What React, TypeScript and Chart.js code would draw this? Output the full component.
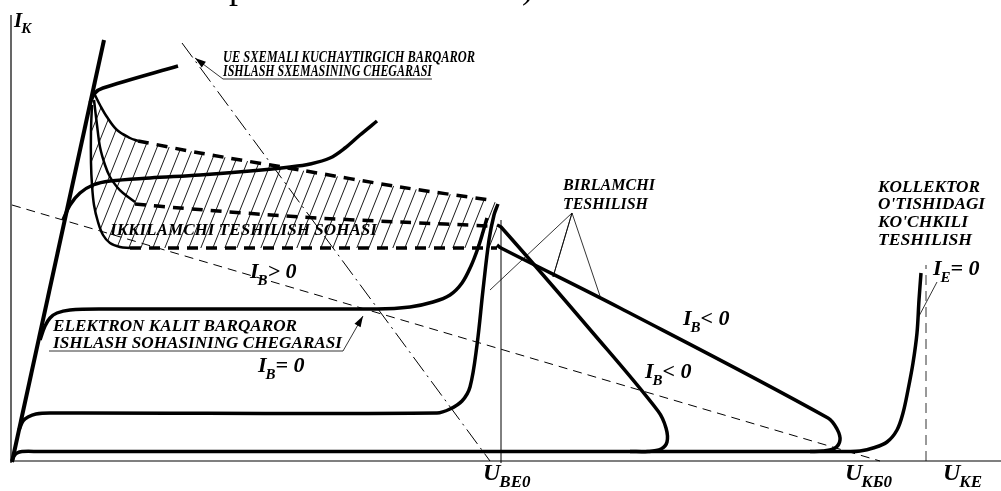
import React, { useEffect, useRef } from "react";
import { Chart, registerables } from "chart.js";

Chart.register(...registerables);

// ---------- data (x: U_KE, y: I_K, arbitrary units) ----------
const axisX = [[-1, 0], [989, 0]];
const axisY = [[-1, -2], [-1, 446]];
const steepLine = [[0, -1], [92, 421]];
const ieZero = [[0, 0], [2, 5], [5, 8], [10, 9.5], [28, 9.5], [838, 9.5], [848, 10], [861, 13], [875, 19], [885, 31], [891, 48], [896, 71], [901, 98], [905, 128], [907, 161], [909, 188]];
const ibZero = [[7, 31], [11, 40], [16, 44], [24, 47], [38, 48], [425, 48], [438, 52], [450, 60], [458, 74], [465, 116], [471, 171], [477, 221], [482, 246], [486, 257]];
const ibPosLow = [[28, 121], [33, 135], [38, 143], [45, 148], [58, 151], [88, 152], [365, 152], [398, 154], [421, 159], [438, 166], [450, 178], [459, 195], [466, 213], [471, 229], [475, 243]];
const ibPosHigh = [[51, 241], [58, 256], [68, 268], [81, 276], [98, 280], [138, 283], [188, 286], [238, 290], [278, 294], [298, 297], [318, 303], [333, 313], [348, 326], [365, 340]];
const topBranch = [[78, 358], [83, 368], [91, 373], [166, 395]];
const curveISolid = [[83, 366], [88, 356], [95, 344], [105, 331], [118, 323], [126, 320]];
const upperDashed = [[126, 320], [188, 308], [288, 291], [388, 274], [478, 261]];
const curveJSolid = [[82, 361], [85, 336], [88, 314], [93, 296], [98, 284], [105, 274], [111, 268], [123, 259]];
const midDashed = [[123, 257], [168, 253], [288, 244], [388, 239], [478, 235]];
const curveKSolid = [[80, 356], [79, 331], [79, 298], [80, 276], [82, 256], [86, 239], [91, 226], [98, 218], [108, 214], [118, 213]];
const lowDashed = [[118, 213], [485, 213]];
const ibNegSteep = [[485, 236], [489, 234], [581, 128], [646, 50], [654, 33], [655, 19], [649, 12], [636, 9.5], [618, 9.5]];
const ibNegLong = [[485, 216], [489, 213], [608, 153], [816, 43], [825, 32], [828, 21], [823, 13], [811, 10], [798, 9.5]];
const ube0Line = [[489, -2], [489, 241]];
const ieVertical = [[914, 0], [914, 196]];
const loadLine = [[0, 256], [868, 0]];
const ueBoundary = [[170, 418], [478, 0]];
const ueLeader = [[183, 403], [211, 382], [420, 382]];
const ekLeader = [[37, 110], [331, 110], [351, 145]];
const birlamchiLeader = [[478, 171], [560, 248], [541, 184], [560, 248], [588, 165]];
const ieLeader = [[925, 179], [906, 143]];

const blockLabels = [
  { text: "UE SXEMALI KUCHAYTIRGICH BARQAROR", x: 211, y: 399, w: 252 },
  { text: "ISHLASH SXEMASINING CHEGARASI", x: 211, y: 385, w: 209 },
  { text: "IKKILAMCHI TESHILISH SOHASI", x: 98, y: 226, w: 267 },
  { text: "BIRLAMCHI", x: 551, y: 271, w: 92 },
  { text: "TESHILISH", x: 551, y: 252, w: 85 },
  { text: "KOLLEKTOR", x: 866, y: 269, w: 102 },
  { text: "O'TISHIDAGI", x: 866, y: 252, w: 107 },
  { text: "KO'CHKILI", x: 866, y: 234, w: 90 },
  { text: "TESHILISH", x: 866, y: 216, w: 94 },
  { text: "ELEKTRON KALIT BARQAROR", x: 41, y: 130, w: 244 },
  { text: "ISHLASH SOHASINING CHEGARASI", x: 41, y: 113, w: 289 },
];

const mathLabels = [
  { main: "I", sub: "K", rest: "", x: 2, y: 434, size: 21 },
  { main: "I", sub: "B", rest: "> 0", x: 238, y: 183, size: 22 },
  { main: "I", sub: "B", rest: "= 0", x: 246, y: 89, size: 22 },
  { main: "I", sub: "B", rest: "< 0", x: 671, y: 136, size: 22 },
  { main: "I", sub: "B", rest: "< 0", x: 633, y: 83, size: 22 },
  { main: "I", sub: "E", rest: "= 0", x: 921, y: 186, size: 22 },
  { main: "U", sub: "BE0", rest: "", x: 471, y: -19, size: 24 },
  { main: "U", sub: "KБ0", rest: "", x: 833, y: -19, size: 24 },
  { main: "U", sub: "KE", rest: "", x: 931, y: -19, size: 24 },
];

const titleFragments = [
  { text: "p", x: 217, y: 463 },
  { text: ")", x: 510, y: 463 },
];

const arrows = [
  { from: [211, 382], to: [183, 403] },
  { from: [331, 110], to: [351, 145] },
];

// ---------- helpers ----------
const pts = (a: number[][]) => a.map(([x, y]) => ({ x, y }));
const FONT = (s: number) => `italic bold ${s}px "Liberation Serif", "Times New Roman", serif`;

function line(data: number[][], opts: any = {}) {
  return {
    data: pts(data),
    showLine: true,
    pointRadius: 0,
    borderColor: "#000",
    borderWidth: 3.5,
    tension: 0,
    fill: false,
    order: 1,
    ...opts,
  };
}

function makeHatch(): any {
  const c = document.createElement("canvas");
  c.width = 12;
  c.height = 30;
  const g = c.getContext("2d")!;
  g.strokeStyle = "#000";
  g.lineWidth = 0.9;
  for (const o of [-12, 0, 12]) {
    g.beginPath();
    g.moveTo(o, 30);
    g.lineTo(o + 12, 0);
    g.stroke();
  }
  return g.createPattern(c, "repeat");
}

const annotationPlugin = {
  id: "annotations",
  afterDatasetsDraw(chart: any) {
    const { ctx, scales } = chart;
    const X = (v: number) => scales.x.getPixelForValue(v);
    const Y = (v: number) => scales.y.getPixelForValue(v);
    ctx.save();
    ctx.fillStyle = "#000";
    ctx.textBaseline = "alphabetic";

    for (const a of arrows) {
      const x1 = X(a.from[0]), y1 = Y(a.from[1]), x2 = X(a.to[0]), y2 = Y(a.to[1]);
      const ang = Math.atan2(y2 - y1, x2 - x1);
      const L = 11, W = 3.5;
      ctx.beginPath();
      ctx.moveTo(x2, y2);
      ctx.lineTo(x2 - L * Math.cos(ang) + W * Math.sin(ang), y2 - L * Math.sin(ang) - W * Math.cos(ang));
      ctx.lineTo(x2 - L * Math.cos(ang) - W * Math.sin(ang), y2 - L * Math.sin(ang) + W * Math.cos(ang));
      ctx.closePath();
      ctx.fill();
    }

    for (const l of blockLabels) {
      ctx.font = FONT(16);
      const w = ctx.measureText(l.text).width;
      ctx.save();
      ctx.translate(X(l.x), Y(l.y));
      ctx.scale(l.w / w, 1);
      ctx.fillText(l.text, 0, 0);
      ctx.restore();
    }

    for (const m of mathLabels) {
      let x = X(m.x);
      const y = Y(m.y);
      ctx.font = FONT(m.size);
      ctx.fillText(m.main, x, y);
      x += ctx.measureText(m.main).width - 1;
      ctx.font = FONT(Math.round(m.size * 0.7));
      ctx.fillText(m.sub, x, y + m.size * 0.3);
      x += ctx.measureText(m.sub).width;
      if (m.rest) {
        ctx.font = FONT(m.size);
        ctx.fillText(m.rest, x, y);
      }
    }

    ctx.font = `36px "Liberation Serif", "Times New Roman", serif`;
    for (const t of titleFragments) ctx.fillText(t.text, X(t.x), Y(t.y));
    ctx.restore();
  },
};

export default function App() {
  const ref = useRef<HTMLCanvasElement>(null);
  useEffect(() => {
    document.body.style.margin = "0";
    const canvas = ref.current!;
    const hatchPoly = [
      ...curveISolid,
      ...upperDashed,
      [485, 258],
      ...lowDashed.slice().reverse(),
      ...curveKSolid.slice().reverse(),
    ];
    const thin = { borderWidth: 1 };
    const datasets: any[] = [
      line(axisX, { borderWidth: 1.2 }),
      line(axisY, { borderWidth: 1.2 }),
      line(ube0Line, thin),
      line(ieVertical, { borderWidth: 1, borderDash: [10, 6], borderColor: "#333" }),
      line(loadLine, { borderWidth: 1, borderDash: [9, 6] }),
      line(ueBoundary, { borderWidth: 1, borderDash: [18, 5, 2, 5] }),
      line(ueLeader, { borderWidth: 0.8 }),
      line(ekLeader, { borderWidth: 0.8 }),
      line(birlamchiLeader, { borderWidth: 0.8 }),
      line(ieLeader, { borderWidth: 0.8 }),
      line(steepLine, { borderWidth: 4 }),
      line(ieZero, { tension: 0.35 }),
      line(ibZero, { tension: 0.35 }),
      line(ibPosLow, { tension: 0.35 }),
      line(ibPosHigh, { tension: 0.35 }),
      line(topBranch, { tension: 0.3 }),
      line(curveISolid, { tension: 0.35, borderWidth: 2.5 }),
      line(curveJSolid, { tension: 0.35, borderWidth: 2.5 }),
      line(curveKSolid, { tension: 0.35, borderWidth: 2.5 }),
      line(upperDashed, { tension: 0.3, borderDash: [11, 8] }),
      line(midDashed, { tension: 0.3, borderDash: [11, 8] }),
      line(lowDashed, { borderDash: [11, 8] }),
      line(ibNegSteep, { tension: 0.35 }),
      line(ibNegLong, { tension: 0.35 }),
      {
        data: pts(hatchPoly),
        showLine: true,
        pointRadius: 0,
        borderWidth: 0,
        borderColor: "rgba(0,0,0,0)",
        backgroundColor: makeHatch(),
        fill: "shape",
        tension: 0,
        order: 5,
      },
    ];
    const chart = new Chart(canvas, {
      type: "scatter",
      data: { datasets },
      options: {
        animation: false,
        responsive: false,
        devicePixelRatio: 1,
        events: [],
        layout: { padding: 0 },
        plugins: { legend: { display: false }, tooltip: { enabled: false } },
        scales: {
          x: { type: "linear", display: false, min: -12, max: 989 },
          y: { type: "linear", display: false, min: -30, max: 461 },
        },
      },
      plugins: [annotationPlugin],
    } as any);
    return () => chart.destroy();
  }, []);
  return (
    <div style={{ width: 1001, height: 491, background: "#fff" }}>
      <canvas ref={ref} width={1001} height={491} style={{ display: "block" }} />
    </div>
  );
}
